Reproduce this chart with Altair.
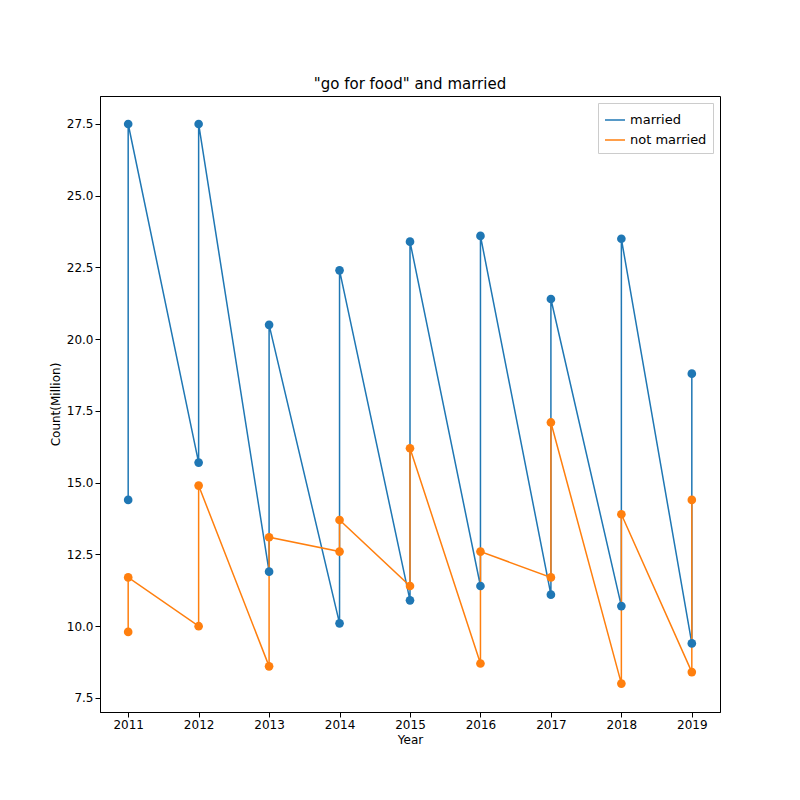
import altair as alt
import pandas as pd

years_m = [2011, 2011, 2012, 2012, 2013, 2013, 2014, 2014, 2015, 2015,
           2016, 2016, 2017, 2017, 2018, 2018, 2019, 2019]
married = [14.4, 27.5, 15.7, 27.5, 11.9, 20.5, 10.1, 22.4, 10.9, 23.4,
           11.4, 23.6, 11.1, 21.4, 10.7, 23.5, 9.4, 18.8]
not_married = [9.8, 11.7, 10.0, 14.9, 8.6, 13.1, 12.6, 13.7, 11.4, 16.2,
               8.7, 12.6, 11.7, 17.1, 8.0, 13.9, 8.4, 14.4]

rows = []
for i, (y, a, b) in enumerate(zip(years_m, married, not_married)):
    rows.append({"Year": y, "Count": a, "series": "married", "order": i})
    rows.append({"Year": y, "Count": b, "series": "not married", "order": i})
df = pd.DataFrame(rows)

chart = alt.Chart(df).mark_line(point=alt.OverlayMarkDef(size=75, opacity=1, filled=True),
                                strokeWidth=1.5).encode(
    x=alt.X("Year:Q", title="Year", scale=alt.Scale(domain=[2010.6, 2019.4], nice=False),
            axis=alt.Axis(values=list(range(2011, 2020)), format="d", grid=False)),
    y=alt.Y("Count:Q", title="Count(Million)", scale=alt.Scale(domain=[7.01, 28.475], nice=False, zero=False),
            axis=alt.Axis(values=[7.5, 10, 12.5, 15, 17.5, 20, 22.5, 25, 27.5], format=".1f", grid=False)),
    color=alt.Color("series:N", title=None,
                    scale=alt.Scale(domain=["married", "not married"], range=["#1f77b4", "#ff7f0e"]),
                    legend=alt.Legend(orient="top-right", offset=7, symbolType="stroke", symbolSize=400,
                                      symbolStrokeWidth=1.5, fillColor="white",
                                      strokeColor="#cccccc", padding=6, labelFontSize=13)),
    order="order:Q",
).properties(
    width=620, height=616,
    title=alt.Title('"go for food" and married', fontSize=15, fontWeight="normal"),
    autosize=alt.AutoSizeParams(type="none"),
    padding={"left": 92, "top": 88, "right": 72, "bottom": 80},
).configure_axis(
    labelFontSize=12, titleFontSize=12, titleFontWeight="normal", domainColor="black",
    tickColor="black", labelColor="black", labelFont="DejaVu Sans", titleFont="DejaVu Sans"
).configure_view(stroke="black").configure_title(font="DejaVu Sans").configure_legend(labelFont="DejaVu Sans")

chart.save("out.html", embed_options={"renderer": "svg", "actions": False})
